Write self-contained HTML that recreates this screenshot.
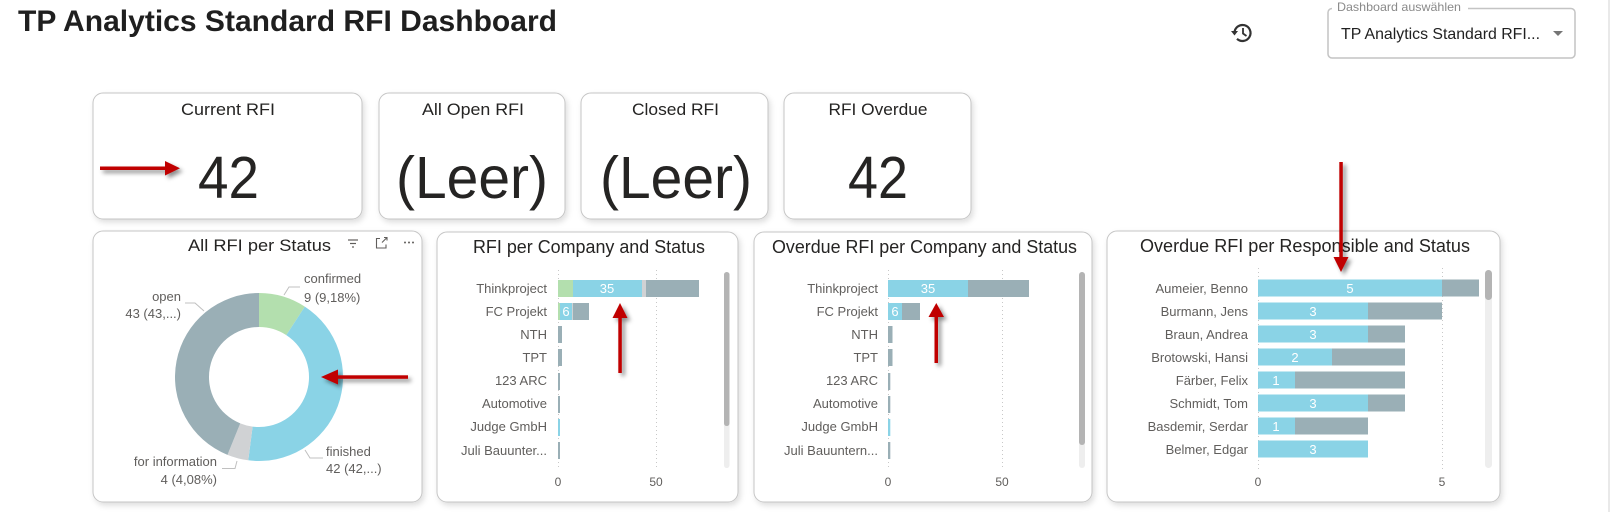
<!DOCTYPE html>
<html><head><meta charset="utf-8"><style>
html,body{margin:0;padding:0;background:#fff;}
#w{width:1610px;height:512px;overflow:hidden;position:relative;}
svg text{font-family:"Liberation Sans",Arial,sans-serif;}
</style></head><body><div id="w">
<svg width="1610" height="512" viewBox="0 0 1610 512" xmlns="http://www.w3.org/2000/svg">
<defs>
<filter id="sh" x="-10%" y="-10%" width="130%" height="130%"><feDropShadow dx="2" dy="3" stdDeviation="3" flood-color="#000" flood-opacity="0.13"/></filter>
<filter id="ash" x="-50%" y="-50%" width="200%" height="200%"><feDropShadow dx="3" dy="3" stdDeviation="2" flood-color="#000" flood-opacity="0.45"/></filter>
</defs>
<rect width="1610" height="512" fill="#fff"/>
<rect x="1608" y="0" width="2" height="512" fill="#e9e9e9"/>

<!-- Title -->
<text x="18" y="31" font-size="30" font-weight="bold" fill="#1f1f1f" textLength="539" lengthAdjust="spacingAndGlyphs">TP Analytics Standard RFI Dashboard</text>

<!-- history icon -->
<g fill="none" stroke="#333" stroke-width="2.2">
<path d="M1234.5,33 A8,8 0 1 1 1237,38.8"/>
<path d="M1243,28 V33.5 L1246.5,36" stroke-width="1.8"/>
</g>
<path d="M1231,31 L1238,31 L1234.5,35.5 Z" fill="#333"/>

<!-- dropdown -->
<rect x="1328" y="8.5" width="247" height="49.5" rx="4" fill="#fff" stroke="#c4c4c4" stroke-width="1.5"/>
<rect x="1332" y="3" width="136" height="10" fill="#fff"/>
<text x="1337" y="11" font-size="12" fill="#8a8a8a" textLength="124" lengthAdjust="spacingAndGlyphs">Dashboard auswählen</text>
<text x="1341" y="39" font-size="16" fill="#212121" textLength="199" lengthAdjust="spacingAndGlyphs">TP Analytics Standard RFI...</text>
<path d="M1553,31 L1563,31 L1558,36 Z" fill="#757575"/>

<!-- KPI cards -->
<g filter="url(#sh)" fill="#fff" stroke="#c6c6c6" stroke-width="1">
<rect x="93" y="93" width="269" height="126" rx="10"/>
<rect x="379" y="93" width="186" height="126" rx="10"/>
<rect x="581" y="93" width="187" height="126" rx="10"/>
<rect x="784" y="93" width="187" height="126" rx="10"/>
</g>
<g fill="#252423" text-anchor="middle">
<text x="228" y="115" font-size="17" textLength="94" lengthAdjust="spacingAndGlyphs">Current RFI</text>
<text x="473" y="115" font-size="17" textLength="102" lengthAdjust="spacingAndGlyphs">All Open RFI</text>
<text x="675.5" y="115" font-size="17" textLength="87" lengthAdjust="spacingAndGlyphs">Closed RFI</text>
<text x="878" y="115" font-size="17" textLength="99" lengthAdjust="spacingAndGlyphs">RFI Overdue</text>
<text x="228.5" y="198" font-size="59" textLength="61" lengthAdjust="spacingAndGlyphs">42</text>
<text x="472" y="198" font-size="59" textLength="152" lengthAdjust="spacingAndGlyphs">(Leer)</text>
<text x="676" y="198" font-size="59" textLength="152" lengthAdjust="spacingAndGlyphs">(Leer)</text>
<text x="878" y="198" font-size="59" textLength="60" lengthAdjust="spacingAndGlyphs">42</text>
</g>

<!-- Bottom cards -->
<g filter="url(#sh)" fill="#fff" stroke="#c6c6c6" stroke-width="1">
<rect x="93" y="231" width="329" height="271" rx="10"/>
<rect x="437" y="232" width="301" height="270" rx="10"/>
<rect x="754" y="232" width="338" height="270" rx="10"/>
<rect x="1107" y="231" width="393" height="271" rx="10"/>
</g>

<!-- Donut card -->
<text x="259.5" y="251" font-size="17" fill="#252423" text-anchor="middle" textLength="143" lengthAdjust="spacingAndGlyphs">All RFI per Status</text>
<g stroke="#605e5c" stroke-width="1.2">
<line x1="348" y1="240" x2="358" y2="240"/>
<line x1="350" y1="243.5" x2="356" y2="243.5"/>
<line x1="352" y1="247" x2="354" y2="247"/>
</g>
<g fill="none" stroke="#605e5c" stroke-width="1.1">
<path d="M380,238.5 H376.5 V248 H386 V244.5"/>
<path d="M382,242.5 L387,237.5 M384,237.5 H387 V240.5"/>
</g>
<g fill="#605e5c"><circle cx="405" cy="242.5" r="1"/><circle cx="409" cy="242.5" r="1"/><circle cx="413" cy="242.5" r="1"/></g>

<path d="M259,293 A84,84 0 0 1 304.83,306.60 L286.28,335.09 A50,50 0 0 0 259,327 Z" fill="#b3dfae"/>
<path d="M304.83,306.60 A84,84 0 0 1 248.25,460.31 L252.60,426.59 A50,50 0 0 0 286.28,335.09 Z" fill="#8ad3e6"/>
<path d="M248.25,460.31 A84,84 0 0 1 227.48,454.86 L240.24,423.35 A50,50 0 0 0 252.60,426.59 Z" fill="#d0d2d4"/>
<path d="M227.48,454.86 A84,84 0 0 1 259,293 L259,327 A50,50 0 0 0 240.24,423.35 Z" fill="#9aafb6"/>

<g fill="none" stroke="#c0c0c0" stroke-width="1">
<path d="M284,295 L289,287 H300"/>
<path d="M185,303 H195 L204,311"/>
<path d="M305,450 L310,458 H323"/>
<path d="M222,468.5 H235 L237,461"/>
</g>
<g font-size="13" fill="#605e5c">
<text x="304" y="283">confirmed</text>
<text x="304" y="302">9 (9,18%)</text>
<text x="181" y="301" text-anchor="end">open</text>
<text x="181" y="318" text-anchor="end">43 (43,...)</text>
<text x="326" y="456">finished</text>
<text x="326" y="473">42 (42,...)</text>
<text x="217" y="466" text-anchor="end">for information</text>
<text x="217" y="484" text-anchor="end">4 (4,08%)</text>
</g>

<!-- Chart 1: RFI per Company and Status -->
<text x="589" y="253" font-size="18" fill="#252423" text-anchor="middle" textLength="232" lengthAdjust="spacingAndGlyphs">RFI per Company and Status</text>
<g stroke="#c8c8c8" stroke-width="1" stroke-dasharray="1,3">
<line x1="558.5" y1="270" x2="558.5" y2="470"/>
<line x1="656.5" y1="270" x2="656.5" y2="470"/>
</g>
<g font-size="13" fill="#605e5c" text-anchor="end">
<text x="547" y="293">Thinkproject</text>
<text x="547" y="316">FC Projekt</text>
<text x="547" y="339">NTH</text>
<text x="547" y="362">TPT</text>
<text x="547" y="385">123 ARC</text>
<text x="547" y="408">Automotive</text>
<text x="547" y="431">Judge GmbH</text>
<text x="547" y="455">Juli Bauunter...</text>
</g>
<g>
<rect x="558" y="280" width="15" height="17" fill="#b3dfae"/>
<rect x="573" y="280" width="69" height="17" fill="#8ad3e6"/>
<rect x="642" y="280" width="4" height="17" fill="#d0d2d4"/>
<rect x="646" y="280" width="53" height="17" fill="#9aafb6"/>
<rect x="558" y="303" width="2" height="17" fill="#b3dfae"/>
<rect x="560" y="303" width="12" height="17" fill="#8ad3e6"/>
<rect x="572" y="303" width="1" height="17" fill="#d0d2d4"/>
<rect x="573" y="303" width="16" height="17" fill="#9aafb6"/>
<rect x="558" y="326" width="4" height="17" fill="#9aafb6"/>
<rect x="558" y="349" width="4" height="17" fill="#9aafb6"/>
<rect x="558" y="373" width="2" height="17" fill="#9aafb6"/>
<rect x="558" y="396" width="2" height="17" fill="#9aafb6"/>
<rect x="558" y="419" width="2" height="17" fill="#8ad3e6"/>
<rect x="558" y="442" width="2" height="17" fill="#9aafb6"/>
</g>
<g font-size="13" fill="#fff" text-anchor="middle">
<text x="607" y="293">35</text>
<text x="566" y="316">6</text>
</g>
<g font-size="12" fill="#605e5c" text-anchor="middle">
<text x="558" y="486">0</text>
<text x="656" y="486">50</text>
</g>
<rect x="724" y="272" width="5.5" height="196" rx="2.7" fill="#eeeeee"/>
<rect x="724" y="272" width="5.5" height="154" rx="2.7" fill="#b4b4b4"/>

<!-- Chart 2: Overdue RFI per Company and Status -->
<text x="924.5" y="253" font-size="18" fill="#252423" text-anchor="middle" textLength="305" lengthAdjust="spacingAndGlyphs">Overdue RFI per Company and Status</text>
<g stroke="#c8c8c8" stroke-width="1" stroke-dasharray="1,3">
<line x1="888.5" y1="270" x2="888.5" y2="470"/>
<line x1="1002.5" y1="270" x2="1002.5" y2="470"/>
</g>
<g font-size="13" fill="#605e5c" text-anchor="end">
<text x="878" y="293">Thinkproject</text>
<text x="878" y="316">FC Projekt</text>
<text x="878" y="339">NTH</text>
<text x="878" y="362">TPT</text>
<text x="878" y="385">123 ARC</text>
<text x="878" y="408">Automotive</text>
<text x="878" y="431">Judge GmbH</text>
<text x="878" y="455">Juli Bauuntern...</text>
</g>
<g>
<rect x="888" y="280" width="80" height="17" fill="#8ad3e6"/>
<rect x="968" y="280" width="61" height="17" fill="#9aafb6"/>
<rect x="888" y="303" width="14" height="17" fill="#8ad3e6"/>
<rect x="902" y="303" width="18" height="17" fill="#9aafb6"/>
<rect x="888" y="326" width="4.5" height="17" fill="#9aafb6"/>
<rect x="888" y="349" width="4.5" height="17" fill="#9aafb6"/>
<rect x="888" y="373" width="2.3" height="17" fill="#9aafb6"/>
<rect x="888" y="396" width="2.3" height="17" fill="#9aafb6"/>
<rect x="888" y="419" width="2.3" height="17" fill="#8ad3e6"/>
<rect x="888" y="442" width="2.3" height="17" fill="#9aafb6"/>
</g>
<g font-size="13" fill="#fff" text-anchor="middle">
<text x="928" y="293">35</text>
<text x="895" y="316">6</text>
</g>
<g font-size="12" fill="#605e5c" text-anchor="middle">
<text x="888" y="486">0</text>
<text x="1002" y="486">50</text>
</g>
<rect x="1079" y="272" width="6" height="196" rx="3" fill="#eeeeee"/>
<rect x="1079" y="272" width="6" height="173" rx="3" fill="#b4b4b4"/>

<!-- Chart 3: Overdue RFI per Responsible and Status -->
<text x="1305" y="252" font-size="18" fill="#252423" text-anchor="middle" textLength="330" lengthAdjust="spacingAndGlyphs">Overdue RFI per Responsible and Status</text>
<g stroke="#c8c8c8" stroke-width="1" stroke-dasharray="1,3">
<line x1="1258.5" y1="268" x2="1258.5" y2="470"/>
<line x1="1442.5" y1="268" x2="1442.5" y2="470"/>
</g>
<g font-size="13" fill="#605e5c" text-anchor="end">
<text x="1248" y="293">Aumeier, Benno</text>
<text x="1248" y="316">Burmann, Jens</text>
<text x="1248" y="339">Braun, Andrea</text>
<text x="1248" y="362">Brotowski, Hansi</text>
<text x="1248" y="385">Färber, Felix</text>
<text x="1248" y="408">Schmidt, Tom</text>
<text x="1248" y="431">Basdemir, Serdar</text>
<text x="1248" y="454">Belmer, Edgar</text>
</g>
<g>
<rect x="1258" y="279.5" width="184" height="17" fill="#8ad3e6"/>
<rect x="1442" y="279.5" width="37" height="17" fill="#9aafb6"/>
<rect x="1258" y="302.5" width="110" height="17" fill="#8ad3e6"/>
<rect x="1368" y="302.5" width="74" height="17" fill="#9aafb6"/>
<rect x="1258" y="325.5" width="110" height="17" fill="#8ad3e6"/>
<rect x="1368" y="325.5" width="37" height="17" fill="#9aafb6"/>
<rect x="1258" y="348.5" width="74" height="17" fill="#8ad3e6"/>
<rect x="1332" y="348.5" width="73" height="17" fill="#9aafb6"/>
<rect x="1258" y="371.5" width="37" height="17" fill="#8ad3e6"/>
<rect x="1295" y="371.5" width="110" height="17" fill="#9aafb6"/>
<rect x="1258" y="394.5" width="110" height="17" fill="#8ad3e6"/>
<rect x="1368" y="394.5" width="37" height="17" fill="#9aafb6"/>
<rect x="1258" y="417.5" width="37" height="17" fill="#8ad3e6"/>
<rect x="1295" y="417.5" width="73" height="17" fill="#9aafb6"/>
<rect x="1258" y="440.5" width="110" height="17" fill="#8ad3e6"/>
</g>
<g font-size="13" fill="#fff" text-anchor="middle">
<text x="1350" y="293">5</text>
<text x="1313" y="316">3</text>
<text x="1313" y="339">3</text>
<text x="1295" y="362">2</text>
<text x="1276" y="385">1</text>
<text x="1313" y="408">3</text>
<text x="1276" y="431">1</text>
<text x="1313" y="454">3</text>
</g>
<g font-size="12" fill="#605e5c" text-anchor="middle">
<text x="1258" y="486">0</text>
<text x="1442" y="486">5</text>
</g>
<rect x="1485" y="270" width="7" height="198" rx="3.5" fill="#eeeeee"/>
<rect x="1485" y="270" width="7" height="30" rx="3.5" fill="#b4b4b4"/>

<!-- Red arrows -->
<g filter="url(#ash)" fill="#c00000">
<rect x="100" y="166.5" width="68" height="3.5"/>
<path d="M165,161 L180,168.3 L165,175.5 Z"/>
<rect x="336" y="375.3" width="72" height="3.5"/>
<path d="M338,369.5 L321,377 L338,384.5 Z"/>
<rect x="618.3" y="316" width="3.5" height="57"/>
<path d="M612.5,318 L620,303 L627.5,318 Z"/>
<rect x="934.5" y="315" width="3.5" height="48"/>
<path d="M928.5,317 L936.3,303 L944,317 Z"/>
<rect x="1339.3" y="162" width="3.5" height="97"/>
<path d="M1333.5,257 L1341,272 L1348.5,257 Z"/>
</g>
</svg>
</div></body></html>
